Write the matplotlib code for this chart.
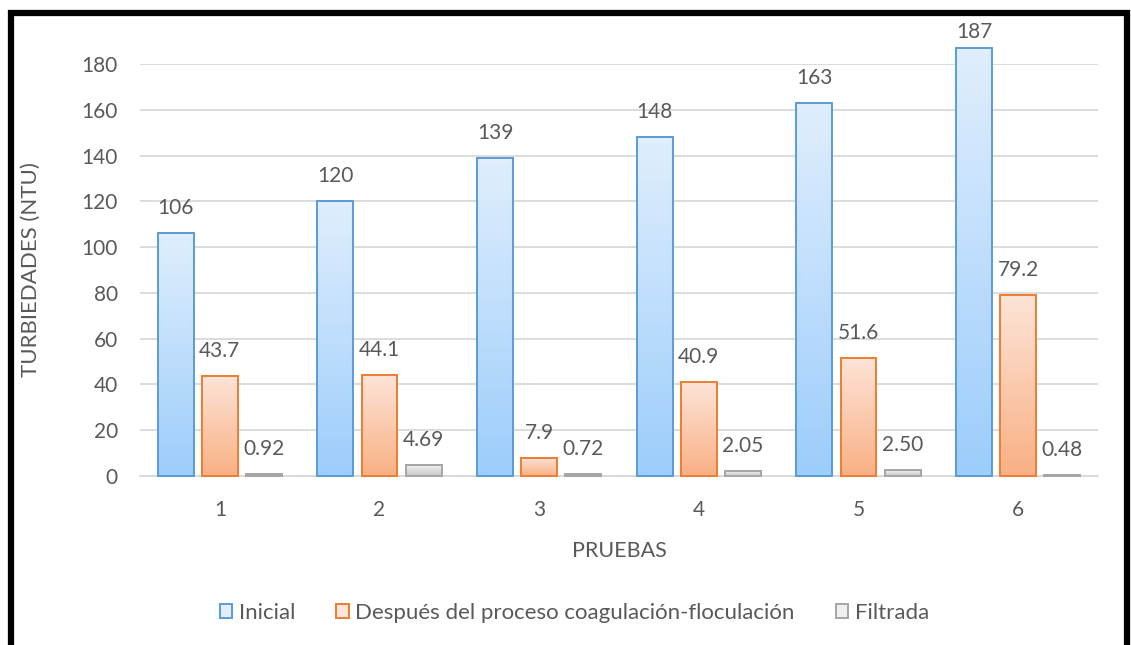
import numpy as np
import matplotlib.pyplot as plt
from matplotlib.colors import LinearSegmentedColormap
from matplotlib.patches import Rectangle, Patch

# Datos de turbiedad por prueba
pruebas = ["1", "2", "3", "4", "5", "6"]
inicial = [106, 120, 139, 148, 163, 187]
despues = [43.7, 44.1, 7.9, 40.9, 51.6, 79.2]
filtrada = [0.92, 4.69, 0.72, 2.05, 2.50, 0.48]

etiquetas_inicial = ["106", "120", "139", "148", "163", "187"]
etiquetas_despues = ["43.7", "44.1", "7.9", "40.9", "51.6", "79.2"]
etiquetas_filtrada = ["0.92", "4.69", "0.72", "2.05", "2.50", "0.48"]

series = ["Inicial", "Después del proceso coagulación-floculación", "Filtrada"]

plt.rcParams['font.family'] = ['Lato', 'DejaVu Sans']
GRIS_TEXTO = "#595959"
GRIS_LINEA = "#d9d9d9"

# colores: (arriba, abajo, borde)
estilos = [
    ("#e0eefd", "#9ccdfb", "#5b9bd5"),
    ("#fde4d8", "#f9b084", "#ed7d31"),
    ("#f0f0f0", "#c8c8c8", "#a5a5a5"),
]

W, H = 1131, 645
fig = plt.figure(figsize=(W / 100, H / 100), dpi=100)
ax = fig.add_axes([140 / W, 1 - 476 / H, 958 / W, 412 / H])

x = np.arange(1, len(pruebas) + 1)
ancho = 0.225
desplaz = [-0.276, 0.0, 0.276]
valores = [inicial, despues, filtrada]
etiquetas = [etiquetas_inicial, etiquetas_despues, etiquetas_filtrada]

ax.set_xlim(0.5, len(pruebas) + 0.5)
ax.set_ylim(0, 180)

grad = np.linspace(0, 1, 256).reshape(-1, 1)
tope = H - 32  # las etiquetas no suben por encima del marco
for (arriba, abajo, borde), off, vals, txts in zip(estilos, desplaz, valores, etiquetas):
    cmap = LinearSegmentedColormap.from_list("g", [abajo, arriba])
    for xi, v, t in zip(x, vals, txts):
        x0 = xi + off - ancho / 2
        img = ax.imshow(grad, cmap=cmap, origin="lower", aspect="auto",
                        extent=(x0, x0 + ancho, 0, v), zorder=2, clip_on=False)
        rect = Rectangle((x0, 0), ancho, v, facecolor="none", edgecolor=borde,
                         linewidth=1.4, zorder=3, clip_on=False)
        ax.add_patch(rect)
        img.set_clip_path(rect)
        px, py = ax.transData.transform((xi + off, v))
        ty = min(py + 25, tope)
        ax.annotate(t, (xi + off, v), xytext=(px, ty), textcoords="figure pixels",
                    ha="center", va="center", fontsize=15, color=GRIS_TEXTO,
                    annotation_clip=False)

ax.set_yticks(np.arange(0, 181, 20))
ax.set_xticks(x)
ax.set_xticklabels(pruebas)
ax.tick_params(axis="both", length=0, labelsize=15, labelcolor=GRIS_TEXTO)
ax.tick_params(axis="y", pad=16)
ax.tick_params(axis="x", pad=17)
ax.grid(axis="y", color=GRIS_LINEA, linewidth=1.3, zorder=0)
ax.set_axisbelow(True)
for lado in ["top", "right", "left"]:
    ax.spines[lado].set_visible(False)
ax.spines["bottom"].set_color(GRIS_LINEA)
ax.spines["bottom"].set_linewidth(1.3)

ax.set_ylabel("TURBIEDADES (NTU)", fontsize=16, color=GRIS_TEXTO)
ax.yaxis.set_label_coords(-0.103, 0.50)
ax.set_xlabel("PRUEBAS", fontsize=15.5, color=GRIS_TEXTO)
ax.xaxis.set_label_coords(0.5, -0.158)

handles = [Patch(facecolor=a, edgecolor=b, linewidth=1.4) for a, _, b in estilos]
fig.legend(handles, series, loc="center", bbox_to_anchor=(0.508, 1 - 613 / H),
           ncol=3, frameon=False, fontsize=16, labelcolor=GRIS_TEXTO,
           handlelength=0.55, handleheight=0.55, handletextpad=0.3, columnspacing=1.85)

# marco negro del gráfico
marco = Rectangle((11 / W, -0.05), 1116 / W, 1.05 - 13 / H,
                  transform=fig.transFigure, facecolor="none", edgecolor="black",
                  linewidth=4.5, clip_on=False)
fig.patches.append(marco)

fig.savefig("out.png", dpi=100)
